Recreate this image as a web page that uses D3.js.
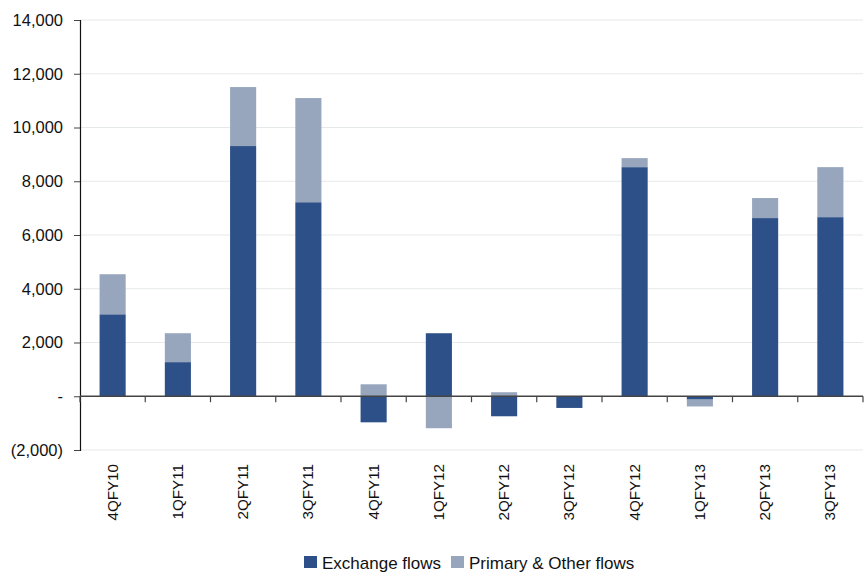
<!DOCTYPE html>
<html>
<head>
<meta charset="utf-8">
<script src="https://cdn.jsdelivr.net/npm/d3@7/dist/d3.min.js"></script>
<style>
  html, body { margin: 0; padding: 0; background: #fff; }
  svg { display: block; font-family: "Liberation Sans", Arial, sans-serif; }
</style>
</head>
<body>
<svg id="chart" width="867" height="575"></svg>
<script>
// Quarterly flows (stacked): exchange flows and primary & other flows
const quarters = ["4QFY10", "1QFY11", "2QFY11", "3QFY11", "4QFY11", "1QFY12",
                  "2QFY12", "3QFY12", "4QFY12", "1QFY13", "2QFY13", "3QFY13"];
const exchangeFlows = [3050, 1270, 9310, 7220, -970, 2345, -745, -435, 8525, -125, 6630, 6665];
const primaryOther  = [1490, 1075, 2195, 3875, 445, -1190, 150, 0, 335, -255, 745, 1860];
const seriesNames = ["Exchange flows", "Primary & Other flows"];
const seriesColors = ["#2e5088", "#97a6bd"];
const yTicks = [-2000, 0, 2000, 4000, 6000, 8000, 10000, 12000, 14000];

const svg = d3.select("#chart");
const margin = { left: 80, top: 20 };
const plotRight = 863;
const y = d3.scaleLinear().domain([-2000, 14000]).range([450, 20]);
const x = d3.scaleBand().domain(quarters).range([margin.left, plotRight]).paddingInner(0.6).paddingOuter(0.3);
const band = d3.scaleBand().domain(quarters).range([margin.left, plotRight]);

const fmt = v => v === 0 ? "-" : (v < 0 ? "(" + d3.format(",")(-v) + ")" : d3.format(",")(v));

// gridlines
svg.append("g").selectAll("line").data(yTicks.filter(v => v !== 0)).join("line")
  .attr("x1", margin.left).attr("x2", plotRight)
  .attr("y1", d => y(d)).attr("y2", d => y(d))
  .attr("stroke", "#e6e9e9").attr("stroke-width", 1);

// stacked bars: positive values stack upward, negatives downward
const rows = quarters.map((q, i) => ({ q, vals: [exchangeFlows[i], primaryOther[i]] }));
const segs = [];
rows.forEach(r => {
  let pos = 0, neg = 0;
  r.vals.forEach((v, k) => {
    if (v >= 0) { segs.push({ q: r.q, k, y0: pos, y1: pos + v }); pos += v; }
    else { segs.push({ q: r.q, k, y0: neg + v, y1: neg }); neg += v; }
  });
});
svg.append("g").selectAll("rect").data(segs).join("rect")
  .attr("x", d => x(d.q)).attr("width", x.bandwidth())
  .attr("y", d => y(d.y1)).attr("height", d => y(d.y0) - y(d.y1))
  .attr("fill", d => seriesColors[d.k]);

// y axis
const yAxis = d3.axisLeft(y).tickValues(yTicks).tickFormat(fmt).tickSize(6).tickPadding(11);
const gy = svg.append("g").attr("transform", `translate(${margin.left},0)`).call(yAxis);
gy.select(".domain").attr("stroke", "#111").attr("stroke-width", 1.2);
gy.selectAll(".tick line").attr("stroke", "#444");
gy.selectAll(".tick text").attr("font-size", "16.5px").attr("fill", "#111");

// zero line with category ticks at band boundaries
const gx = svg.append("g").attr("transform", `translate(0,${y(0)})`);
gx.append("line").attr("x1", margin.left).attr("x2", plotRight).attr("stroke", "#444").attr("stroke-width", 1.3);
const bounds = [band(quarters[0])].concat(quarters.map(q => band(q) + band.bandwidth()));
gx.selectAll(".tk").data(bounds).join("line").attr("class", "tk")
  .attr("x1", d => d).attr("x2", d => d).attr("y1", 0).attr("y2", 6)
  .attr("stroke", "#444").attr("stroke-width", 1.2);

// rotated category labels
svg.append("g").selectAll("text").data(quarters).join("text")
  .attr("transform", d => `translate(${band(d) + band.bandwidth() / 2 + 5},464) rotate(-90)`)
  .attr("text-anchor", "end")
  .attr("font-size", "15.2px").attr("fill", "#111")
  .text(d => d);

// legend
const legend = svg.append("g");
const legendItems = [{ x: 304, name: seriesNames[0], c: seriesColors[0] },
                     { x: 451, name: seriesNames[1], c: seriesColors[1] }];
legendItems.forEach(it => {
  legend.append("rect").attr("x", it.x).attr("y", 556).attr("width", 13).attr("height", 12).attr("fill", it.c);
  legend.append("text").attr("x", it.x + 18).attr("y", 569).attr("font-size", "17px").attr("fill", "#111").text(it.name);
});
</script>
</body>
</html>
